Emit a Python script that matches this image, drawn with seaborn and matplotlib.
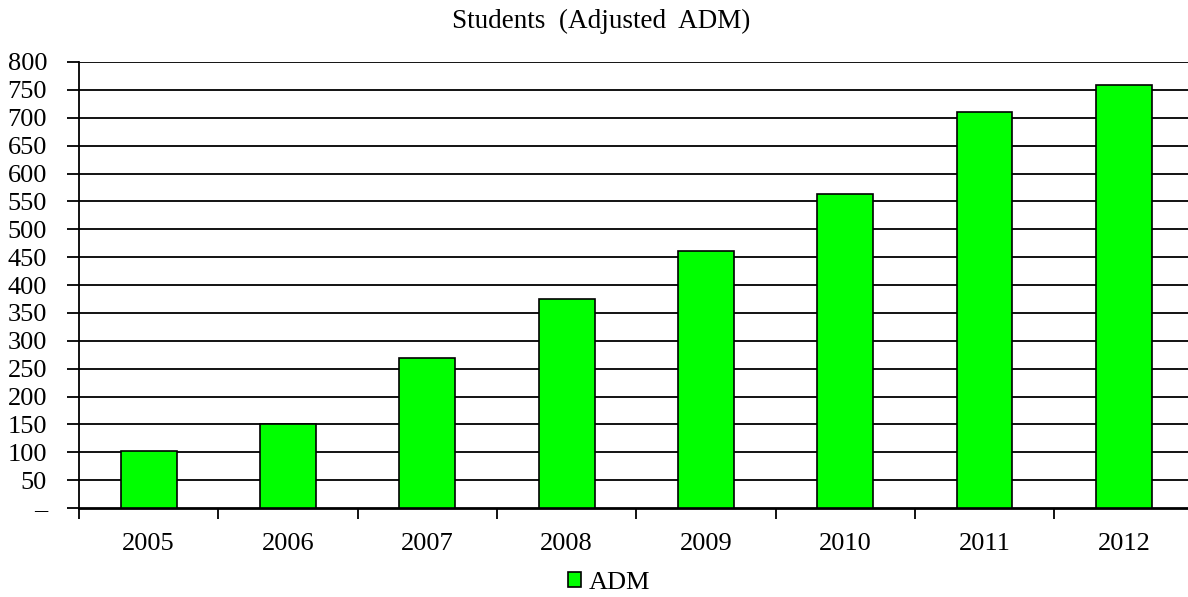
import numpy as np
import pandas as pd
import matplotlib
matplotlib.use("Agg")
import matplotlib.pyplot as plt
from matplotlib.patches import Patch
from matplotlib.ticker import FixedLocator
import seaborn as sns

#------data--------------------
years = ["2005", "2006", "2007", "2008", "2009", "2010", "2011", "2012"]
adm = [102, 151, 269, 375, 461, 564, 711, 759]
yticks = list(range(0, 801, 50))
ylabels = ["\u2013"] + [str(v) for v in yticks[1:]]

df = pd.DataFrame({"year": years, "ADM": adm})

sns.set_style("white")
plt.rcParams["font.family"] = ["Liberation Serif", "DejaVu Serif"]
plt.rcParams["text.color"] = "black"
plt.rcParams["xtick.color"] = "black"
plt.rcParams["ytick.color"] = "black"
plt.rcParams["axes.labelcolor"] = "black"

fig = plt.figure(figsize=(11.88, 5.97), dpi=100)
ax = fig.add_axes([79/1188, 89/597, 1114.6/1188, 446/597])

sns.barplot(data=df, x="year", y="ADM", color="#00ff00", saturation=1,
            edgecolor="black", linewidth=1.2, width=0.4, ax=ax, zorder=3)

ax.set_ylim(0, 800)
ax.set_xlim(-0.5, 7.5)
ax.set_yticks(yticks)
ax.set_yticklabels(ylabels, fontsize=19)
for y in yticks[1:]:
    ax.axhline(y, color="black", lw=1.3, zorder=1)

# x: labels centred, tick marks between categories
ax.tick_params(axis="x", which="major", length=0, pad=18, labelsize=19,
               labelcolor="black")
ax.xaxis.set_minor_locator(FixedLocator(np.arange(-0.5, 8, 1)))
ax.tick_params(axis="x", which="minor", length=8, width=1.3, direction="out",
               color="black", bottom=True)
ax.tick_params(axis="y", length=9, width=1.3, direction="out", color="black",
               left=True, pad=14, labelcolor="black")
ax.set_xlabel("")
ax.set_ylabel("")

for s in ["top", "right"]:
    ax.spines[s].set_visible(False)
ax.spines["left"].set_color("black")
ax.spines["left"].set_linewidth(1.3)
ax.spines["bottom"].set_color("black")
ax.spines["bottom"].set_linewidth(2)

fig.text(601/1188, 1 - 21/597, "Students  (Adjusted  ADM)", ha="center",
         va="center", fontsize=19.5, color="black")

h = Patch(facecolor="#00ff00", edgecolor="black", linewidth=1.2, label="ADM")
leg = fig.legend(handles=[h], loc="center", bbox_to_anchor=(609/1188, 1 - 583/597),
                 frameon=False, fontsize=19, handlelength=0.5, handleheight=0.5,
                 handletextpad=0.3, borderpad=0)
for t in leg.get_texts():
    t.set_color("black")

fig.savefig("out.png", dpi=100)
